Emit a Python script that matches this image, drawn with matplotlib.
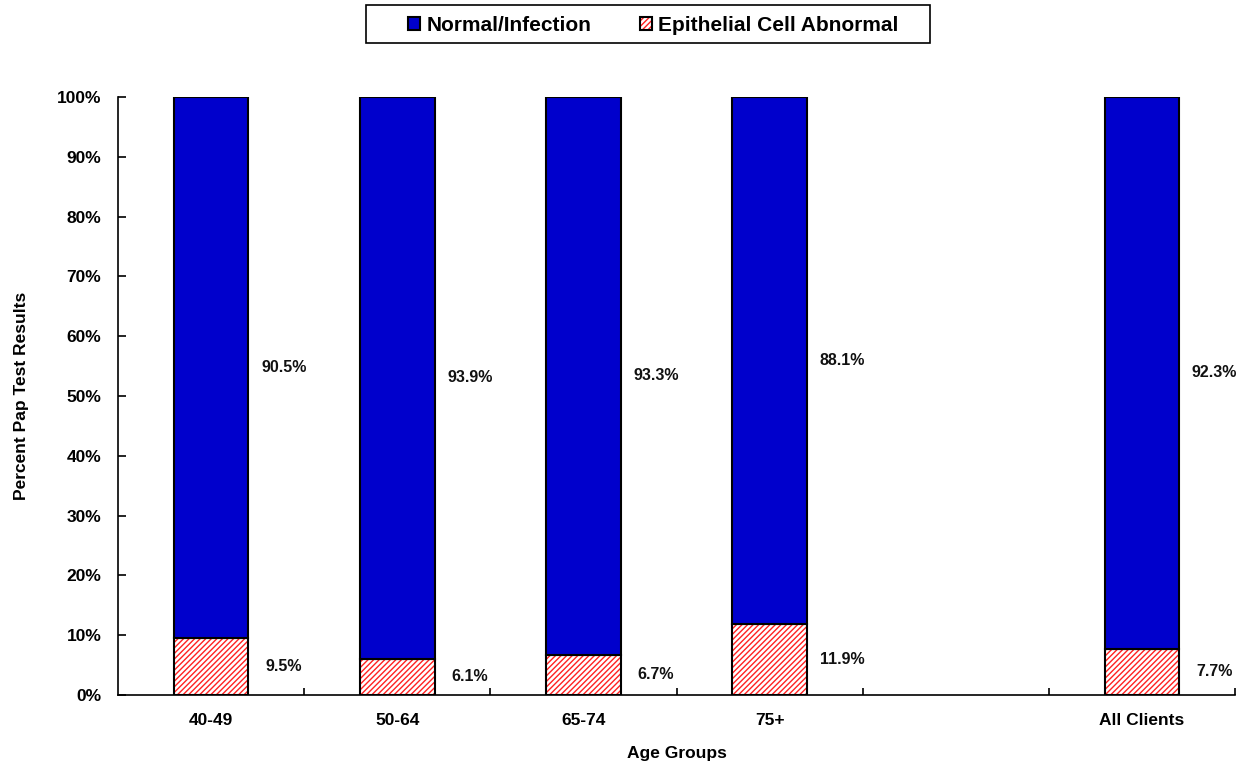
import numpy as np
import matplotlib
matplotlib.use('Agg')
import matplotlib.pyplot as plt
from matplotlib.ticker import FuncFormatter
from matplotlib.patches import Rectangle

plt.rcParams['font.family'] = ['Liberation Sans', 'DejaVu Sans']
plt.rcParams['font.weight'] = 'bold'
plt.rcParams['hatch.linewidth'] = 1.0

# data
groups = ['40-49', '50-64', '65-74', '75+', 'All Clients']
positions = [0, 1, 2, 3, 5]   # empty slot before "All Clients"
normal = [90.5, 93.9, 93.3, 88.1, 92.3]
abnormal = [9.5, 6.1, 6.7, 11.9, 7.7]

blue = '#0000CC'
red = '#FF2020'
w = 0.4

fig = plt.figure(figsize=(12.48, 7.67), dpi=100)
ax = fig.add_axes([0.0946, 0.0939, 0.8950, 0.7796])

x = np.array(positions)
ab = np.array(abnormal)
nm = np.array(normal)

# hatched bottom part, then outline on top
h_ab = ax.bar(x, ab, w, color='white', edgecolor=red, hatch='//////', linewidth=0, zorder=2)
h_out = ax.bar(x, ab, w, fill=False, edgecolor='black', linewidth=1.5, zorder=3)
h_nm = ax.bar(x, nm, w, bottom=ab, color=blue, edgecolor='black', linewidth=1.5, zorder=3)

for xi, a, n in zip(x, ab, nm):
    ax.text(xi + 0.39, a / 2, f'{a:.1f}%', ha='center', va='center', fontsize=11.5, color='#111111')
    ax.text(xi + 0.39, a + n / 2, f'{n:.1f}%', ha='center', va='center', fontsize=11.5, color='#111111')

ax.set_xlim(-0.5, 5.5)
ax.set_ylim(0, 100)
ax.set_xticks(positions)
ax.set_xticklabels(groups)
ax.set_xticks(np.arange(0.5, 6, 1), minor=True)
ax.set_yticks(np.arange(0, 101, 10))
ax.yaxis.set_major_formatter(FuncFormatter(lambda v, p: f'{v:.0f}%'))

ax.tick_params(axis='x', which='major', length=0, pad=13, labelsize=12.5)
ax.tick_params(axis='x', which='minor', direction='in', length=5, width=1.2)
ax.tick_params(axis='y', direction='in', length=6, width=1.2, pad=12, labelsize=12.5)

for s in ['top', 'right']:
    ax.spines[s].set_visible(False)
for s in ['left', 'bottom']:
    ax.spines[s].set_linewidth(1.2)

ax.set_xlabel('Age Groups', fontsize=12.5, fontweight='bold', labelpad=13)
ax.set_ylabel('Percent Pap Test Results', fontsize=12.5, fontweight='bold', labelpad=20)

# legend box drawn separately so it can be wider than the entries
W, H = fig.get_size_inches() * fig.dpi
fig.patches.append(Rectangle((366 / W, 1 - 43 / H), 564 / W, 38 / H, transform=fig.transFigure,
                             fill=False, edgecolor='black', linewidth=1.2))
leg = fig.legend([h_nm, (h_ab, h_out)], ['Normal/Infection', 'Epithelial Cell Abnormal'],
                 loc='center', bbox_to_anchor=(0.5235, 0.967), ncol=2, fontsize=15,
                 frameon=False, handlelength=0.6, handleheight=0.6, handletextpad=0.3,
                 columnspacing=2.3, borderpad=0.3, borderaxespad=0)

fig.savefig('out.png', dpi=100)
